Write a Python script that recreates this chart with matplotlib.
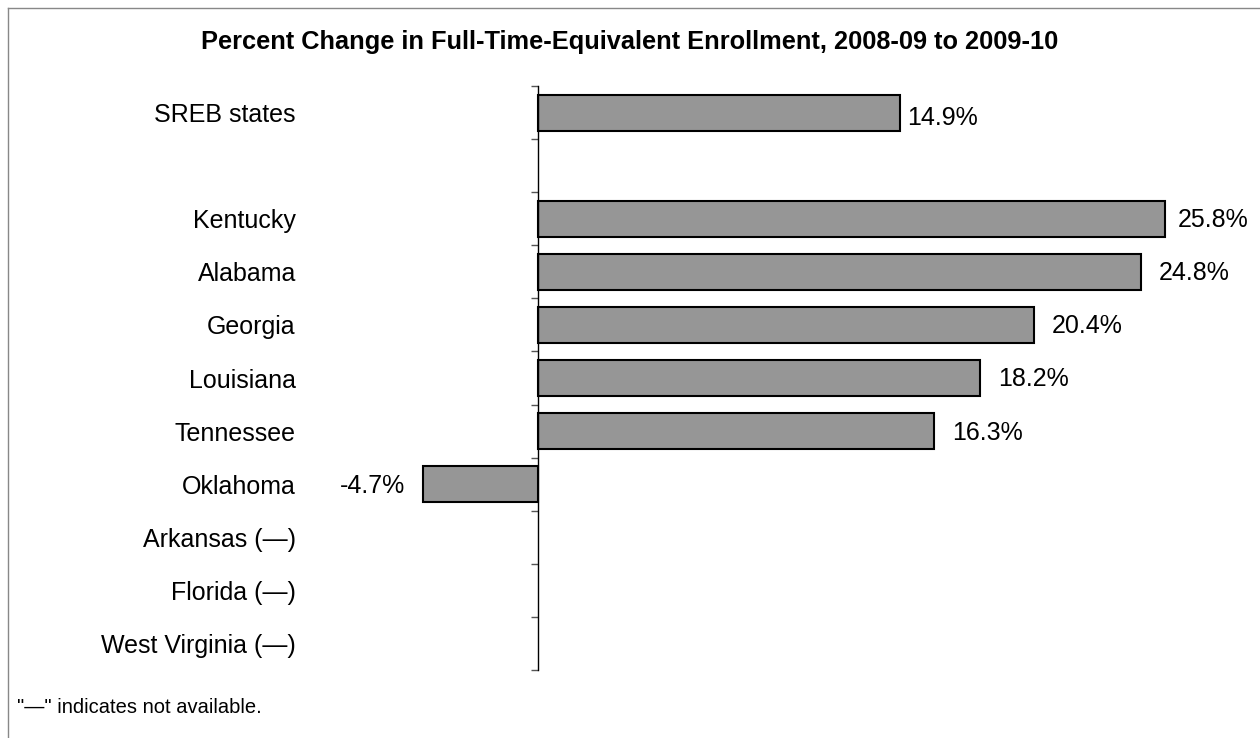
import numpy as np
import matplotlib
matplotlib.use('Agg')
import matplotlib.pyplot as plt
from matplotlib.lines import Line2D

plt.rcParams['font.family'] = ['Liberation Sans', 'DejaVu Sans']

# data ------------------------------------------------------------
states = ['SREB states', '', 'Kentucky', 'Alabama', 'Georgia', 'Louisiana',
          'Tennessee', 'Oklahoma', 'Arkansas (\u2014)', 'Florida (\u2014)',
          'West Virginia (\u2014)']
pct = [14.9, None, 25.8, 24.8, 20.4, 18.2, 16.3, -4.7, None, None, None]

title = 'Percent Change in Full-Time-Equivalent Enrollment, 2008-09 to 2009-10'
note = '"\u2014" indicates not available.'

# figure ----------------------------------------------------------
fig = plt.figure(figsize=(12.6, 7.38), dpi=100)
ax = fig.add_axes([0.3108, 0.0921, 0.6659, 0.7913])

y = np.arange(len(states))
have = [(i, v) for i, v in enumerate(pct) if v is not None]
ax.barh([i for i, _ in have], [v for _, v in have], height=0.68, color='#969696',
        edgecolor='black', linewidth=1.5)

# value labels: Excel put the summary one closer/lower and squeezed the longest bar's label
for yi, v in have:
    off = 13 if v >= 0 else -13
    dy = -1
    if yi == 0:
        off, dy = 5, -4
    elif v == max(pct[2:], key=lambda t: -99 if t is None else t):
        off = 9
    ax.annotate(f'{v:.1f}%', (v, yi), xytext=(off, dy), textcoords='offset points',
                ha='left' if v >= 0 else 'right', va='center', fontsize=18)

ax.set_xlim(-6, 28.5)
ax.set_ylim(len(states) - 0.5, -0.5)

# category labels at centres, tick marks at boundaries
ax.set_yticks(y)
ax.set_yticklabels(states)
ax.set_yticks(np.arange(-0.5, len(states)), minor=True)
ax.tick_params(axis='y', which='major', length=0, pad=174, labelsize=18)
ax.tick_params(axis='y', which='minor', length=5, width=1, color='#555555')

ax.set_xticks([])
for s in ['top', 'right', 'bottom']:
    ax.spines[s].set_visible(False)
ax.spines['left'].set_position(('data', 0))
ax.spines['left'].set_linewidth(1.0)

fig.text(0.5, 0.943, title, ha='center', va='center', fontsize=18.3, fontweight='bold')
fig.text(0.0135, 0.042, note, ha='left', va='center', fontsize=14.5)

# chart border (left and top edges)
fig.add_artist(Line2D([8 / 1260, 8 / 1260], [0, 1 - 8 / 738], color='#888888', lw=1))
fig.add_artist(Line2D([8 / 1260, 1], [1 - 8 / 738, 1 - 8 / 738], color='#888888', lw=1))

fig.savefig('out.png', dpi=100)
